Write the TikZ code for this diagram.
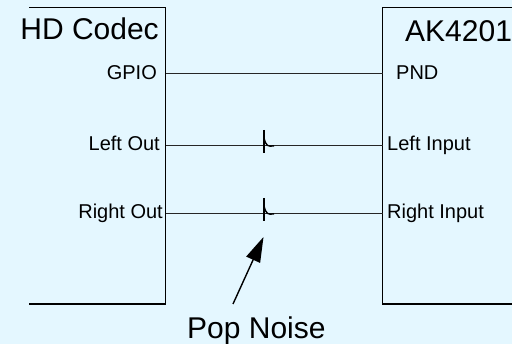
\documentclass[tikz,border=0pt]{standalone}
\usepackage{fontspec}
\setmainfont{Liberation Sans}
\usetikzlibrary{arrows.meta}
\definecolor{bgcol}{RGB}{228,247,255}
\begin{document}
\begin{tikzpicture}[x=1pt,y=-1pt,
  boxline/.style={line width=1.4pt,black},
  wire/.style={line width=0.9pt,black!85},
  big/.style={inner sep=0pt,font=\fontsize{30}{36}\selectfont},
  small/.style={inner sep=0pt,font=\fontsize{20}{24}\selectfont},
  spike/.style={line width=2pt,black},
  hook/.style={line width=1.4pt,black}]
\useasboundingbox[fill=bgcol] (0,0) rectangle (512,344);
% left block (HD Codec)
\coordinate (cTL) at (29,7.5);
\coordinate (cTR) at (165.5,7.5);
\coordinate (cBR) at (165.5,304);
\coordinate (cBL) at (29,304);
\draw[boxline] (cTL) -- (cTR) -- (cBR) -- (cBL);
% right block (AK4201)
\coordinate (aTR) at (513,7.5);
\coordinate (aTL) at (382.5,7.5);
\coordinate (aBL) at (382.5,304);
\coordinate (aBR) at (513,304);
\draw[boxline] (aTR) -- (aTL) -- (aBL) -- (aBR);
% titles and pin labels
\node[big,anchor=base east] (codec) at (159,40) {HD Codec};
\node[big,anchor=base west] (ak) at (405,41.5) {AK4201};
\node[small,anchor=base east] (gpio) at (157,80) {GPIO};
\node[small,anchor=base east] (lout) at (160,151) {Left Out};
\node[small,anchor=base east] (rout) at (163,218.5) {Right Out};
\node[small,anchor=base west] (pnd) at (396,80) {PND};
\node[small,anchor=base west] (lin) at (387,151) {Left Input};
\node[small,anchor=base west] (rin) at (387,219) {Right Input};
% ports
\coordinate (pGPIO) at (165.5,73);
\coordinate (pLO) at (165.5,145);
\coordinate (pRO) at (165.5,213);
\coordinate (pPND) at (382.5,73);
\coordinate (pLI) at (382.5,145);
\coordinate (pRI) at (382.5,213);
\draw[wire] (pGPIO) -- (pPND);
\draw[wire] (pLO) -- (pLI);
\draw[wire] (pRO) -- (pRI);
% pop glitches
\coordinate (g1) at (264,145);
\coordinate (g2) at (264,213);
\foreach \g in {g1,g2}{
  \draw[spike] ([yshift=15pt]\g) -- ([yshift=-8.5pt]\g);
  \draw[hook] ([yshift=7pt]\g) .. controls ([xshift=2pt,yshift=-1pt]\g) and ([xshift=4pt,yshift=-2pt]\g) .. ([xshift=10pt,yshift=-0.8pt]\g);
}
% pop noise label and arrow
\node[big,anchor=base west] (pop) at (187,338.5) {Pop Noise};
\coordinate (arrTail) at (233,304);
\coordinate (arrTip) at (263.5,237);
\draw[line width=1.4pt,-{Triangle[length=25pt,width=15pt]}] (arrTail) -- (arrTip);
\end{tikzpicture}
\end{document}
